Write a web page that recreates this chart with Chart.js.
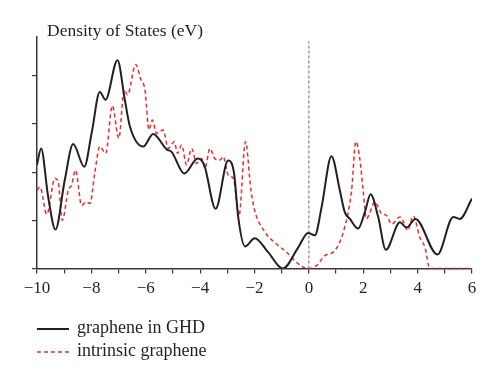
<!DOCTYPE html>
<html>
<head>
<meta charset="utf-8">
<script src="https://cdn.jsdelivr.net/npm/chart.js@4.4.1/dist/chart.umd.min.js"></script>
<style>
html,body{margin:0;padding:0;background:#fff;}
#wrap{width:500px;height:384px;position:relative;}
</style>
</head>
<body>
<div id="wrap"><canvas id="c" width="500" height="384"></canvas></div>
<script>
// ---- data ----
const ghdX = [-10,-9.85,-9.59,-9.32,-8.98,-8.67,-8.26,-7.99,-7.69,-7.48,-7.04,-6.77,-6.58,-6.09,-5.73,-5.23,-5.05,-4.58,-4.09,-3.85,-3.43,-2.97,-2.75,-2.6,-2.35,-1.99,-1.5,-0.96,-0.39,-0.03,0.22,0.47,0.83,1.14,1.32,1.51,1.81,2.06,2.27,2.55,2.83,3.35,3.59,3.92,4.73,5.31,5.55,6.0];
const ghdY = [2.15,2.49,1.49,0.81,1.83,2.58,2.11,2.81,3.66,3.5,4.32,3.5,2.94,2.53,2.79,2.47,2.42,1.97,2.28,2.15,1.24,2.24,1.97,1.07,0.46,0.63,0.34,0.0,0.44,0.74,0.69,1.28,2.33,1.62,1.17,1.03,0.83,1.17,1.54,1.07,0.39,0.96,0.85,1.03,0.29,1.07,1.03,1.45];

const intX = [-10,-9.89,-9.64,-9.34,-9.22,-9.07,-8.85,-8.73,-8.58,-8.36,-8.2,-8.05,-7.87,-7.69,-7.47,-7.23,-6.99,-6.79,-6.67,-6.37,-6.18,-6.03,-5.88,-5.76,-5.6,-5.36,-5.17,-4.95,-4.83,-4.68,-4.5,-4.31,-4.13,-3.95,-3.82,-3.64,-3.46,-3.27,-3.15,-2.97,-2.78,-2.57,-2.33,-2.13,-1.99,-1.62,-1.19,-0.82,-0.39,-0.03,0.28,0.59,0.96,1.32,1.57,1.73,1.88,2.0,2.12,2.2,2.43,2.67,2.86,3.04,3.35,3.5,3.63,3.84,4.08,4.27,4.45,6.0];
const intY = [1.62,1.69,1.125,1.87,1.8,1.0,1.62,1.73,2.04,1.31,1.38,1.35,2.0,2.53,2.39,3.375,2.7,3.71,3.6,4.23,3.92,3.71,2.875,3.08,2.8,2.875,2.49,2.63,2.39,2.56,2.15,2.49,2.18,2.28,2.08,2.49,2.28,2.25,2.32,1.94,1.87,1.1,2.63,1.62,1.2,0.76,0.51,0.34,0.1,0.0,0.06,0.27,0.375,0.86,1.62,2.63,2.25,1.6,1.03,1.1,1.38,1.14,1.1,0.92,1.07,0.95,0.79,1.09,0.65,0.44,0.0,0.0];

const fermiX = [0, 0];
const fermiY = [0, 4.71];

const xTicks = [-10,-9,-8,-7,-6,-5,-4,-3,-2,-1,0,1,2,3,4,5,6];
const yTicks = [0,1,2,3,4];

const titleText = 'Density of States (eV)';
const seriesNames = ['graphene in GHD', 'intrinsic graphene'];

const SERIF = '"Liberation Serif", "DejaVu Serif", serif';
const TXT = '#231f20';
const AX = '#3a3536';

function pts(xs, ys){ return xs.map((x,i)=>({x:x, y:ys[i]})); }

const overlay = {
  id: 'overlay',
  afterDraw(chart){
    const ctx = chart.ctx;
    ctx.save();
    ctx.fillStyle = TXT;
    ctx.textBaseline = 'middle';
    ctx.textAlign = 'left';
    ctx.font = '17.5px ' + SERIF;
    ctx.fillText(titleText, 47, 31);
    // legend
    const items = [
      {c: '#231f20', dash: [], w: 2, y: 329},
      {c: '#ee2a2a', dash: [4,3], w: 1.5, y: 352}
    ];
    ctx.font = '18px ' + SERIF;
    items.forEach((it, i) => {
      ctx.beginPath();
      ctx.setLineDash(it.dash);
      ctx.strokeStyle = it.c;
      ctx.lineWidth = it.w;
      ctx.moveTo(37, it.y); ctx.lineTo(69, it.y);
      ctx.stroke();
      ctx.setLineDash([]);
      ctx.fillStyle = TXT;
      ctx.fillText(seriesNames[i], 77, it.y - 1);
    });
    ctx.restore();
  }
};

new Chart(document.getElementById('c'), {
  type: 'line',
  data: {
    datasets: [
      {label: seriesNames[0], data: pts(ghdX, ghdY), borderColor: '#231f20', borderWidth: 2, pointRadius: 0, cubicInterpolationMode: 'monotone', fill: false},
      {label: seriesNames[1], data: pts(intX, intY), borderColor: '#ee2a2a', borderWidth: 1.5, borderDash: [4,3], pointRadius: 0, cubicInterpolationMode: 'monotone', fill: false},
      {label: 'Fermi', data: pts(fermiX, fermiY), borderColor: '#8a7f7a', borderWidth: 1.2, borderDash: [3,2], pointRadius: 0, fill: false}
    ]
  },
  options: {
    responsive: false,
    animation: false,
    events: [],
    layout: {padding: {left: 32, right: 28, top: 37, bottom: 80}},
    plugins: {legend: {display: false}, title: {display: false}, tooltip: {enabled: false}},
    scales: {
      x: {
        type: 'linear', min: -10, max: 6,
        afterBuildTicks: (s) => { s.ticks = xTicks.map(v => ({value: v})); },
        ticks: {
          autoSkip: false, maxRotation: 0, padding: 5, color: TXT,
          font: {family: SERIF, size: 17},
          callback: (v) => (v % 2 === 0) ? (v < 0 ? '\u2212' + Math.abs(v) : String(v)) : ''
        },
        grid: {drawOnChartArea: false, drawTicks: true, tickLength: 5, color: AX, lineWidth: 1.2},
        border: {display: true, color: AX, width: 1.5}
      },
      y: {
        type: 'linear', min: 0, max: 4.8,
        afterBuildTicks: (s) => { s.ticks = yTicks.map(v => ({value: v})); },
        ticks: {display: false},
        grid: {drawOnChartArea: false, drawTicks: true, tickLength: 5, color: AX, lineWidth: 1.2},
        border: {display: true, color: AX, width: 1.5}
      }
    }
  },
  plugins: [overlay]
});
</script>
</body>
</html>
